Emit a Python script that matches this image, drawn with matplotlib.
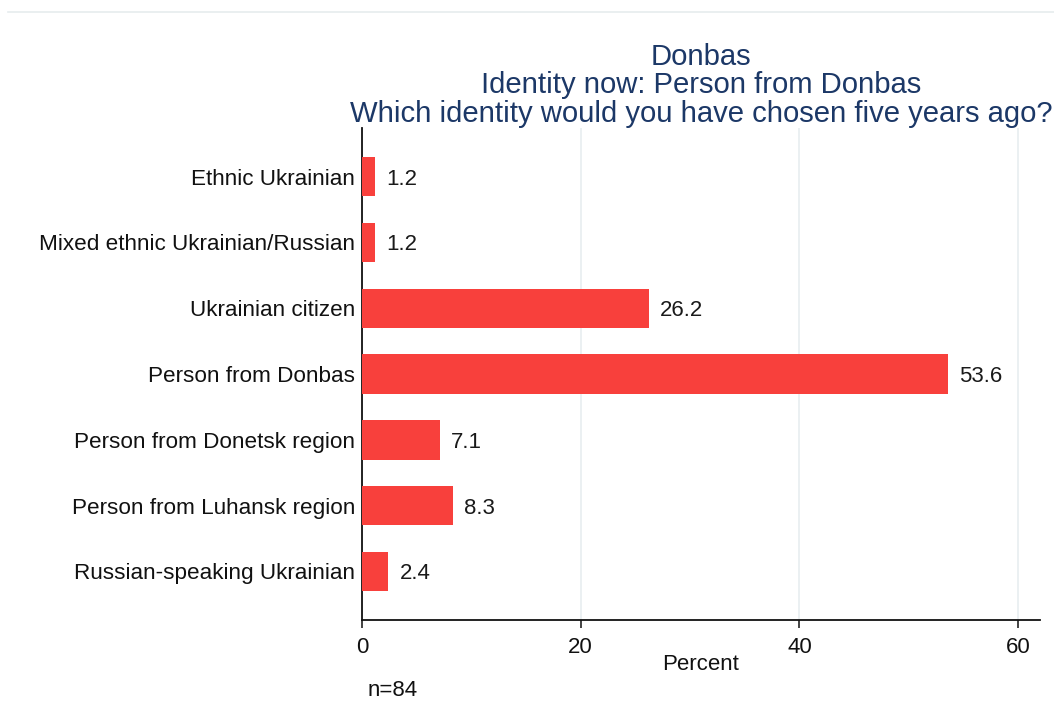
import matplotlib.pyplot as plt
from matplotlib.lines import Line2D

plt.rcParams['font.family'] = ['Liberation Sans', 'DejaVu Sans']

# data
categories = ["Ethnic Ukrainian", "Mixed ethnic Ukrainian/Russian", "Ukrainian citizen",
              "Person from Donbas", "Person from Donetsk region",
              "Person from Luhansk region", "Russian-speaking Ukrainian"]
percent = [1.2, 1.2, 26.2, 53.6, 7.1, 8.3, 2.4]
xticks = [0, 20, 40, 60]
n_obs = 84

title_lines = ["Donbas", "Identity now: Person from Donbas",
               "Which identity would you have chosen five years ago?"]

bar_color = '#f8403c'
title_color = '#1c3867'
grid_color = '#e8eef0'

fig = plt.figure(figsize=(10.54, 7.25), dpi=100)
ax = fig.add_axes([0.3435, 0.1448, 0.9867 - 0.3435, 0.8234 - 0.1448])

ypos = list(range(len(categories)))
bars = ax.barh(ypos, percent, height=0.6, color=bar_color, zorder=3)

# value labels next to the bars
for y, v in zip(ypos, percent):
    ax.annotate(f"{v:.1f}", xy=(v, y), xytext=(8, 0), textcoords='offset points',
                ha='left', va='center_baseline', fontsize=16, color='#1a1a1a')

ax.set_ylim(len(categories) - 1 + 0.74, -0.74)
ax.set_xlim(0, 62)
ax.set_yticks(ypos)
ax.set_yticklabels(categories, fontsize=16.2, color='#111111')
ax.set_xticks(xticks)
ax.set_xticklabels([str(t) for t in xticks], fontsize=16, color='#111111')
ax.tick_params(axis='y', length=0, pad=5)
ax.tick_params(axis='x', length=6, width=1.2, pad=6, color='#222222')

ax.grid(axis='x', color=grid_color, linewidth=1.2, zorder=0)
ax.set_axisbelow(True)
for s in ['top', 'right']:
    ax.spines[s].set_visible(False)
for s in ['left', 'bottom']:
    ax.spines[s].set_linewidth(1.3)
    ax.spines[s].set_color('#111111')

ax.set_xlabel("Percent", fontsize=16, color='#111111', labelpad=-3)
ax.set_title("\n".join(title_lines), fontsize=21.1, color=title_color,
             linespacing=1.02, pad=4.5)

fig.text(368 / 1054, 1 - 690 / 725, f"n={n_obs}", fontsize=16, color='#111111',
         ha='left', va='center')

# thin separator line at the top of the picture
fig.add_artist(Line2D([8 / 1054, 1], [1 - 12 / 725, 1 - 12 / 725],
                      transform=fig.transFigure, color='#e6ecee', linewidth=1.2))

fig.savefig('out.png', dpi=100)
